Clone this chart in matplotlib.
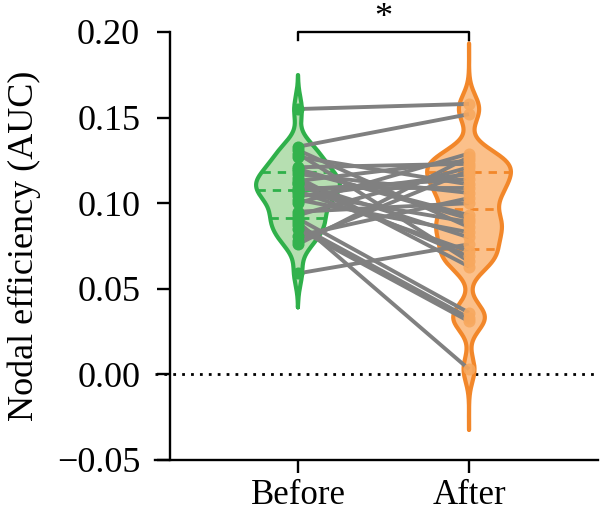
import numpy as np
import matplotlib
matplotlib.use("Agg")
import matplotlib.pyplot as plt

plt.rcParams['font.family'] = ['Liberation Serif', 'DejaVu Serif']

groups = ["Before", "After"]
before = [0.155, 0.133, 0.131, 0.112, 0.129, 0.127, 0.107, 0.121, 0.119, 0.117,
          0.115, 0.113, 0.111, 0.109, 0.108, 0.106, 0.104, 0.100, 0.095, 0.093,
          0.091, 0.089, 0.087, 0.085, 0.081, 0.078, 0.076, 0.059, 0.120, 0.102]
after = [0.158, 0.152, 0.086, 0.080, 0.066, 0.111, 0.072, 0.123, 0.093, 0.106,
         0.063, 0.125, 0.069, 0.109, 0.114, 0.089, 0.117, 0.129, 0.100, 0.121,
         0.036, 0.003, 0.033, 0.031, 0.103, 0.119, 0.127, 0.076, 0.091, 0.083]
yticks = [-0.05, 0.00, 0.05, 0.10, 0.15, 0.20]
ytick_labels = ["\u22120.05", "0.00", "0.05", "0.10", "0.15", "0.20"]
ylabel = "Nodal efficiency (AUC)"
sig_label = "*"

edge_colors = ["#2fb04a", "#f2872a"]
fill_colors = ["#b6dfb1", "#fbc08a"]
dot_colors = ["#33b24d", "#f7a85e"]
bws = [0.0072, 0.0075]

fig = plt.figure(figsize=(6.0, 5.14), dpi=100)
ax = fig.add_axes([155/600, 54/514, 443/600, 428/514])

half_w = 0.245
for i, data in enumerate([before, after]):
    d = np.asarray(data)
    ext = d.std()
    grid = np.linspace(d.min() - ext, d.max() + ext, 600)
    dens = np.exp(-0.5 * ((grid[:, None] - d[None, :]) / bws[i]) ** 2).sum(axis=1)
    dens = dens / dens.max() * half_w
    ax.fill_betweenx(grid, i - dens, i + dens, color=fill_colors[i], lw=0, zorder=1)
    ax.plot(np.r_[i - dens, (i + dens)[::-1], (i - dens)[:1]],
            np.r_[grid, grid[::-1], grid[:1]], color=edge_colors[i], lw=3.0,
            solid_joinstyle='round', solid_capstyle='round', zorder=2)
    for q in np.percentile(d, [25, 50, 75]):
        w = np.interp(q, grid, dens)
        ax.plot([i - w, i + w], [q, q], color=edge_colors[i], lw=2.0,
                ls=(0, (3, 2.5)), zorder=2)

for b, a in zip(before, after):
    ax.plot([0, 1], [b, a], color="#808080", lw=2.8, zorder=3, solid_capstyle='butt')

ax.scatter(np.zeros(len(before)), before, s=75, color=dot_colors[0], zorder=4, lw=0)
ax.scatter(np.ones(len(after)), after, s=75, color=dot_colors[1], zorder=4, lw=0, alpha=0.9)

ax.axhline(0, color="black", lw=2.0, ls=(0, (1, 2.2)), zorder=0)

ax.set_xlim(-0.836, 1.754)
ax.set_ylim(-0.05, 0.20)
ax.set_yticks(yticks)
ax.set_yticklabels(ytick_labels)
ax.set_xticks([0, 1])
ax.set_xticklabels(groups)
for s in ["top", "right"]:
    ax.spines[s].set_visible(False)
ax.spines["left"].set_position(("axes", 15/443))
for s in ["left", "bottom"]:
    ax.spines[s].set_linewidth(1.7)
ax.tick_params(axis="both", width=1.7, length=9.5, color="black")
ax.tick_params(axis="y", pad=12, labelsize=26)
ax.tick_params(axis="x", pad=4, labelsize=25)
ax.set_ylabel(ylabel, fontsize=26, labelpad=11)

# significance bracket
ax.plot([0, 0, 1, 1], [0.1955, 0.2, 0.2, 0.1955], color="black", lw=1.7,
        clip_on=False, zorder=5)
ax.text(0.5, 0.1985, sig_label, ha="center", va="bottom", fontsize=26,
        clip_on=False)

fig.savefig("out.png", dpi=100)
